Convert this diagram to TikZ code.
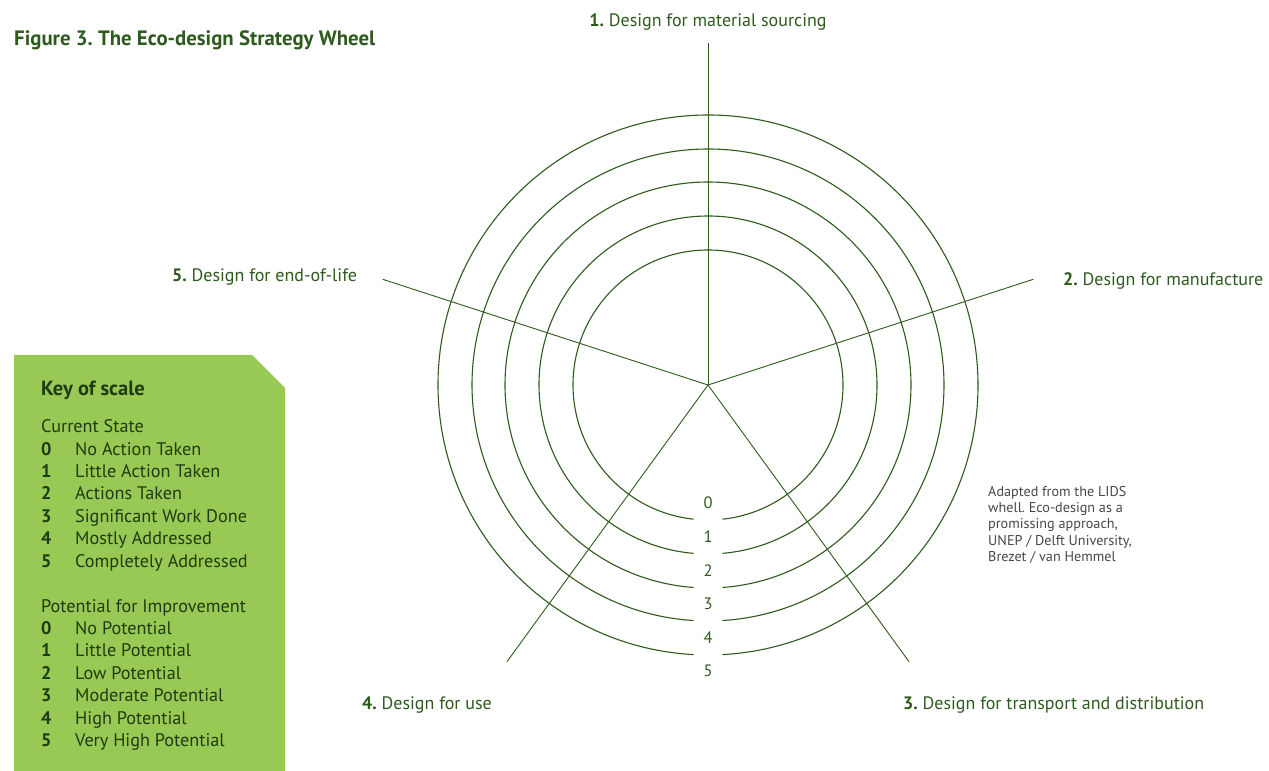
\documentclass[tikz,border=0pt]{standalone}
\usepackage{fontspec}
\setmainfont{PT Sans}
\usetikzlibrary{positioning,calc}
\frenchspacing

\definecolor{ecogreen}{HTML}{2E5A1E}
\definecolor{keyfill}{HTML}{97C954}
\definecolor{keytext}{HTML}{1F3B12}
\definecolor{notegray}{HTML}{474747}

\begin{document}
\begin{tikzpicture}[x=1pt,y=1pt,
    ring/.style={draw=ecogreen,line width=1.1pt},
    spoke/.style={draw=ecogreen,line width=0.9pt},
    axislabel/.style={anchor=base west,text=ecogreen,inner sep=0pt,font=\fontsize{18}{21}\selectfont},
    ringnum/.style={text=ecogreen,inner sep=0pt,font=\fontsize{16.5}{19}\selectfont},
    keyline/.style={anchor=base west,text=keytext,inner sep=0pt,font=\fontsize{18.2}{21}\selectfont}]
  \useasboundingbox (0,0) rectangle (1269,771);

  \node[anchor=base west,text=ecogreen,inner sep=0pt,font=\bfseries\fontsize{20.8}{24}\selectfont]
    (title) at (14,725) {Figure 3. The Eco-design Strategy Wheel};

  % the wheel: five rings, open at the bottom for the scale numbers
  \coordinate (hub) at (708,386);
  \foreach \r in {135,169,203,236,270} {
    \pgfmathsetmacro\gap{asin(14.5/\r)}
    \draw[ring] (hub) ++(-90+\gap:\r) arc[start angle=-90+\gap,end angle=270-\gap,radius=\r];
  }
  \foreach \name/\angle in {s1/90,s2/18,s3/-54,s4/-126,s5/162} {
    \draw[spoke] (hub) -- ++(\angle:342) coordinate (\name);
  }
  \foreach \k in {0,...,5} {
    \node[ringnum] (num\k) at ($(hub)+(0,-118-33.6*\k)$) {\k};
  }

  % strategy labels
  \node[axislabel,anchor=base] (lab1) at (708,744) {\textbf{1.} Design for material sourcing};
  \node[axislabel] (lab2) at (1063,485) {\textbf{2.} Design for manufacture};
  \node[axislabel] (lab3) at (903,61) {\textbf{3.} Design for transport and distribution};
  \node[axislabel] (lab4) at (362,61) {\textbf{4.} Design for use};
  \node[axislabel] (lab5) at (172,489) {\textbf{5.} Design for end-of-life};

  \node[anchor=north west,inner sep=0pt,align=left,text=notegray,
        font=\fontsize{14.2}{16.3}\selectfont] (source) at (988,285)
    {Adapted from the LIDS\\whell. Eco-design as a\\promissing approach,\\UNEP / Delft University,\\Brezet / van Hemmel};

  % key of scale
  \fill[keyfill] (14,0) -- (14,416) -- (252,416) -- (285,383) -- (285,0) -- cycle;
  \node[keyline,font=\bfseries\fontsize{20.5}{24}\selectfont] (keytitle) at (41,375) {Key of scale};
  \node[keyline] (state) at (41,338) {Current State};
  \foreach \k/\txt/\y in {0/No Action Taken/315,1/Little Action Taken/293,2/Actions Taken/271,
      3/Significant Work Done/248,4/Mostly Addressed/226,5/Completely Addressed/203} {
    \node[keyline] (cs\k) at (41,\y) {\textbf{\k}};
    \node[keyline] (cstxt\k) at (75,\y) {\txt};
  }
  \node[keyline] (potential) at (41,158) {Potential for Improvement};
  \foreach \k/\txt/\y in {0/No Potential/136,1/Little Potential/114,2/Low Potential/91,
      3/Moderate Potential/69,4/High Potential/46,5/Very High Potential/24} {
    \node[keyline] (pi\k) at (41,\y) {\textbf{\k}};
    \node[keyline] (pitxt\k) at (75,\y) {\txt};
  }
\end{tikzpicture}
\end{document}
